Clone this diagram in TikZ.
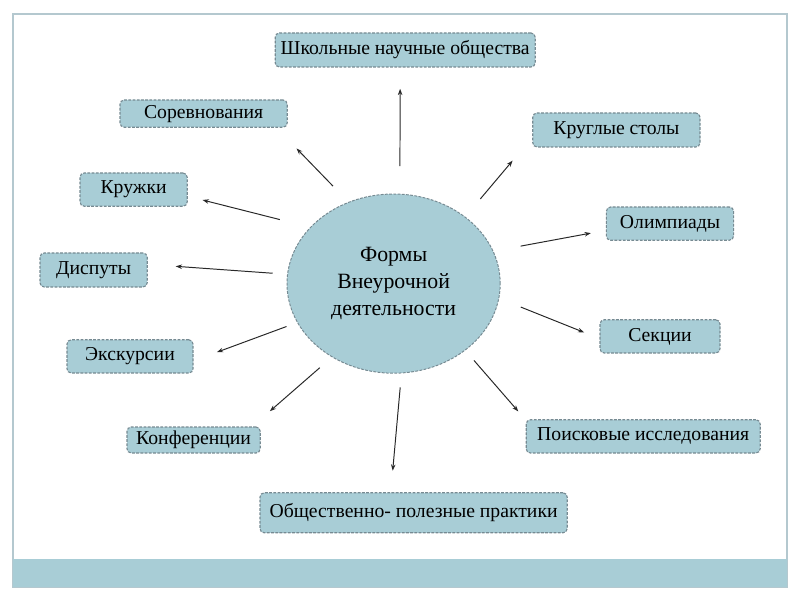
\documentclass[tikz,border=0pt]{standalone}
\usepackage{fontspec}
\setmainfont{Liberation Serif}
\usetikzlibrary{arrows.meta,shapes.geometric}
\definecolor{vdFill}{RGB}{168,205,214}
\definecolor{vdLine}{RGB}{118,138,146}
\definecolor{vdFrame}{RGB}{180,200,207}
\definecolor{vdArrow}{RGB}{40,40,40}
\tikzset{vdBox/.style={draw=vdLine,fill=vdFill,dash pattern=on 2pt off 1pt,line width=0.8pt,rounded corners=3pt,inner sep=0pt,font=\fontsize{14}{19.2}\selectfont},
 vdCentre/.style={draw=vdLine,fill=vdFill,ellipse,dash pattern=on 2pt off 1pt,line width=0.7pt,inner sep=0pt,align=center,minimum width=5.33cm,minimum height=4.48cm,font=\fontsize{15.5}{19.2}\selectfont},
 vdArrow/.style={draw=vdArrow,line width=0.7pt,-{Stealth[length=4.5pt,width=3.2pt]}}}

\begin{document}
\begin{tikzpicture}[x=1cm,y=1cm]
\useasboundingbox (0,0) rectangle (20,15);
\draw[vdFrame,line width=1.2pt] (0.33,0.33) rectangle (19.68,14.65);
\fill[vdFill] (0.33,0.33) rectangle (19.68,1.03);
\node[vdCentre] (c) at (9.84,7.91) {Формы\\Внеурочной\\деятельности};
\foreach \n/\x/\y/\w/\h/\txt in {1/10.13/13.75/6.5/0.85/Школьные научные общества,
 2/5.09/12.16/4.18/0.68/Соревнования,3/15.41/11.75/4.18/0.85/Круглые столы,
 4/3.34/10.26/2.68/0.83/Кружки,5/16.75/9.41/3.18/0.83/Олимпиады,
 6/2.34/8.25/2.68/0.85/Диспуты,7/16.5/6.59/3.0/0.83/Секции,
 8/3.25/6.09/3.15/0.83/Экскурсии,9/4.84/4.0/3.33/0.65/Конференции,
 10/16.08/4.09/5.85/0.83/Поисковые исследования,
 11/10.34/2.18/7.68/1.0/Общественно- полезные практики}{
\node[vdBox,minimum width=\w cm,minimum height=\h cm] (b\n) at (\x,\y) {\txt};}
\foreach \n/\angS/\angE/\gapS/\gapE in {1/86/254/0.69/0.53,2/119/349/0.55/0.72,
 3/43/185/0.58/0.76,4/146/353/0.78/0.38,5/18/186/0.69/0.38,6/175/6/0.36/0.70,
 7/352/182/0.58/0.41,8/202/356/0.28/0.62,9/230/13/0.40/0.58,10/317/172/0.33/0.28,
 11/275/138/0.35/0.54}{
\draw[vdArrow,shorten <=\gapS cm,shorten >=\gapE cm] (c.\angS)--(b\n.\angE);}
\end{tikzpicture}
\end{document}
